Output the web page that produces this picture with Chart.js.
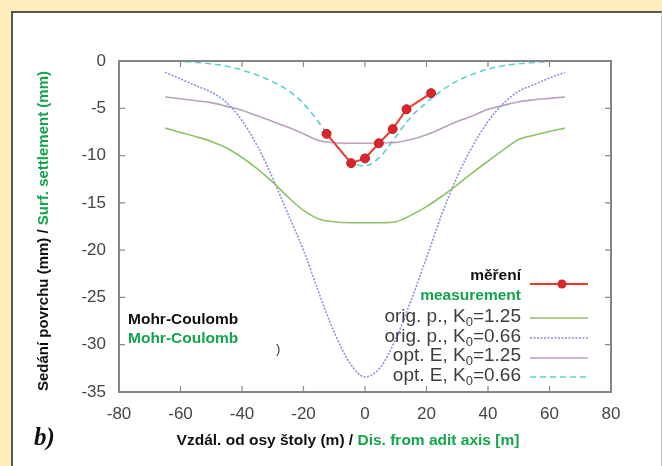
<!DOCTYPE html>
<html>
<head>
<meta charset="utf-8">
<script src="https://cdn.jsdelivr.net/npm/chart.js@4.4.1/dist/chart.umd.min.js"></script>
<style>
  html, body { margin: 0; padding: 0; width: 662px; height: 466px; overflow: hidden; background: #fdeebb; }
  #panel { position: absolute; left: 11px; top: 11px; width: 648px; height: 460px; background: #ffffff;
           border-left: 2px solid #5a5550; border-top: 2px solid #5a5550; border-right: 1px solid #c8c8c8; }
  #c { position: absolute; left: 0; top: 0; }
</style>
</head>
<body>
<div id="panel"></div>
<canvas id="c" width="662" height="466"></canvas>
<script>
// Distance from the adit axis (m) for the computed settlement profiles
const distance = [-65, -60, -55, -50, -45, -40, -35, -30, -25, -20, -15, -10, -5, 0,
                  5, 10, 15, 20, 25, 30, 35, 40, 45, 50, 55, 60, 65];

// Surface settlement (mm), Mohr-Coulomb model
const origK125 = [-7.1, -7.55, -8.0, -8.5, -9.2, -10.2, -11.4, -12.8, -14.4, -15.8, -16.7, -17.0, -17.1, -17.1,
                  -17.1, -17.0, -16.3, -15.4, -14.3, -13.1, -11.8, -10.6, -9.4, -8.3, -7.85, -7.45, -7.1];
const origK066 = [-1.2, -1.9, -2.6, -3.3, -4.4, -6.3, -9.0, -12.4, -16.2, -20.0, -24.5, -28.7, -31.9, -33.4,
                  -32.4, -29.4, -25.3, -20.8, -16.2, -12.2, -9.0, -6.4, -4.5, -3.2, -2.5, -1.8, -1.2];
const optK125  = [-3.8, -4.0, -4.2, -4.4, -4.8, -5.2, -5.8, -6.4, -7.0, -7.7, -8.4, -8.65, -8.7, -8.7,
                  -8.65, -8.6, -8.3, -7.8, -7.1, -6.4, -5.8, -5.1, -4.7, -4.3, -4.1, -3.95, -3.8];
const optK066  = [0, -0.05, -0.15, -0.3, -0.55, -0.95, -1.5, -2.2, -3.1, -4.5, -6.5, -8.7, -10.5, -11.1,
                  -10.1, -8.0, -5.9, -4.4, -3.1, -2.1, -1.4, -0.85, -0.5, -0.3, -0.15, -0.05, 0];

// Measured surface settlement
const measX = [-12.5, -4.5, 0, 4.5, 9, 13.5, 21.5];
const measY = [-7.7, -10.8, -10.3, -8.7, -7.2, -5.1, -3.4];

// Axis ranges and tick steps
const xRange = [-80, 80], xStep = 20;
const yRange = [-35, 0], yStep = 5;

// Legend entries: [label prefix, subscript, suffix]
const legendEntries = [
  ['orig. p., K', '0', '=1.25'],
  ['orig. p., K', '0', '=0.66'],
  ['opt. E, K', '0', '=1.25'],
  ['opt. E, K', '0', '=0.66']
];

const GREEN_TEXT = '#12a54c';
const pts = (xs, ys) => xs.map((x, i) => ({ x: x, y: ys[i] }));

const seriesStyles = [
  { color: '#8fc266', dash: [] },
  { color: '#8a8fe0', dash: [2, 1.5] },
  { color: '#b9a2bc', dash: [] },
  { color: '#5ecfd3', dash: [6, 4] }
];

const datasets = [
  {
    label: 'měření',
    data: pts(measX, measY),
    borderColor: '#ee3a2c',
    borderWidth: 2,
    pointRadius: 4.5,
    pointBackgroundColor: '#d8262a',
    pointBorderColor: '#c01f22',
    pointBorderWidth: 1,
    tension: 0
  }
];
[origK125, origK066, optK125, optK066].forEach((vals, i) => {
  datasets.push({
    label: legendEntries[i].join(''),
    data: pts(distance, vals),
    borderColor: seriesStyles[i].color,
    borderDash: seriesStyles[i].dash,
    borderWidth: 1.6,
    pointRadius: 0,
    cubicInterpolationMode: 'monotone'
  });
});

// Frame, mirrored inward ticks, titles, legend and annotations
const decorations = {
  id: 'decorations',
  afterDraw(chart) {
    const ctx = chart.ctx;
    const a = chart.chartArea;
    const xs = chart.scales.x, ys = chart.scales.y;
    ctx.save();

    // plot box
    ctx.strokeStyle = '#858585';
    ctx.lineWidth = 2;
    ctx.strokeRect(a.left, a.top, a.right - a.left, a.bottom - a.top);

    // inward ticks on all four sides
    ctx.lineWidth = 1.2;
    ctx.strokeStyle = '#8a8a8a';
    const tl = 6;
    for (let v = xRange[0] + xStep; v < xRange[1]; v += xStep) {
      const px = xs.getPixelForValue(v);
      ctx.beginPath();
      ctx.moveTo(px, a.bottom); ctx.lineTo(px, a.bottom - tl);
      ctx.moveTo(px, a.top); ctx.lineTo(px, a.top + tl);
      ctx.stroke();
    }
    for (let v = yRange[0] + yStep; v < yRange[1]; v += yStep) {
      const py = ys.getPixelForValue(v);
      ctx.beginPath();
      ctx.moveTo(a.left, py); ctx.lineTo(a.left + tl, py);
      ctx.moveTo(a.right, py); ctx.lineTo(a.right - tl, py);
      ctx.stroke();
    }

    // two-colour titles
    const twoTone = (first, second, cx, cy, font) => {
      ctx.font = font;
      ctx.textBaseline = 'middle';
      ctx.textAlign = 'left';
      const w1 = ctx.measureText(first).width;
      const w2 = ctx.measureText(second).width;
      const x0 = cx - (w1 + w2) / 2;
      ctx.fillStyle = '#111111';
      ctx.fillText(first, x0, cy);
      ctx.fillStyle = GREEN_TEXT;
      ctx.fillText(second, x0 + w1, cy);
    };
    twoTone('Vzdál. od osy štoly (m) / ', 'Dis. from adit axis [m]', 348, 441, 'bold 15.5px "Liberation Sans", Arial, sans-serif');
    ctx.save();
    ctx.translate(44, 231);
    ctx.rotate(-Math.PI / 2);
    twoTone('Sedání povrchu (mm) / ', 'Surf. settlement (mm)', 0, 0, 'bold 15px "Liberation Sans", Arial, sans-serif');
    ctx.restore();

    // panel letter
    ctx.fillStyle = '#111111';
    ctx.font = 'italic bold 25px "Liberation Serif", "DejaVu Serif", serif';
    ctx.textBaseline = 'alphabetic';
    ctx.textAlign = 'left';
    ctx.fillText('b)', 34, 445);

    // material model note
    ctx.font = 'bold 15.5px "Liberation Sans", Arial, sans-serif';
    ctx.textBaseline = 'middle';
    ctx.fillStyle = '#111111';
    ctx.fillText('Mohr-Coulomb', 128, 320);
    ctx.fillStyle = GREEN_TEXT;
    ctx.fillText('Mohr-Coulomb', 128, 339);
    ctx.fillStyle = '#333333';
    ctx.font = '13px "Liberation Sans", Arial, sans-serif';
    ctx.fillText(')', 276, 349);

    // legend
    const rx = 521, sx0 = 530, sx1 = 588;
    ctx.textAlign = 'right';
    ctx.font = 'bold 15.5px "Liberation Sans", Arial, sans-serif';
    ctx.fillStyle = '#111111';
    ctx.fillText('měření', rx, 276);
    ctx.fillStyle = GREEN_TEXT;
    ctx.fillText('measurement', rx, 296);

    const m = datasets[0];
    ctx.strokeStyle = m.borderColor;
    ctx.lineWidth = 2;
    ctx.setLineDash([]);
    ctx.beginPath(); ctx.moveTo(sx0, 284); ctx.lineTo(sx1, 284); ctx.stroke();
    ctx.fillStyle = m.pointBackgroundColor;
    ctx.beginPath(); ctx.arc(562, 284, 4.5, 0, Math.PI * 2); ctx.fill();

    const rows = [317, 337, 356, 376];
    const lines = [318, 338, 358, 377];
    legendEntries.forEach((e, i) => {
      const big = '19px "Liberation Sans", Arial, sans-serif';
      const small = '13px "Liberation Sans", Arial, sans-serif';
      ctx.fillStyle = '#3e3e3e';
      ctx.textAlign = 'left';
      ctx.font = big;
      const w0 = ctx.measureText(e[0]).width;
      const w2 = ctx.measureText(e[2]).width;
      ctx.font = small;
      const w1 = ctx.measureText(e[1]).width;
      let x = rx - (w0 + w1 + w2);
      ctx.font = big;
      ctx.fillText(e[0], x, rows[i]);
      x += w0;
      ctx.font = small;
      ctx.fillText(e[1], x, rows[i] + 5);
      x += w1;
      ctx.font = big;
      ctx.fillText(e[2], x, rows[i]);

      const ds = datasets[i + 1];
      ctx.strokeStyle = ds.borderColor;
      ctx.lineWidth = 1.6;
      ctx.setLineDash(ds.borderDash);
      ctx.beginPath(); ctx.moveTo(sx0, lines[i]); ctx.lineTo(sx1, lines[i]); ctx.stroke();
    });
    ctx.setLineDash([]);
    ctx.restore();
  }
};

const tickFont = { family: '"Liberation Sans", Arial, sans-serif', size: 17 };

new Chart(document.getElementById('c'), {
  type: 'line',
  data: { datasets: datasets },
  options: {
    responsive: false,
    animation: false,
    devicePixelRatio: 1,
    layout: { padding: { left: 0, top: 61, right: 51, bottom: 0 } },
    plugins: { legend: { display: false }, tooltip: { enabled: false } },
    scales: {
      x: {
        type: 'linear', min: xRange[0], max: xRange[1],
        ticks: { stepSize: xStep, font: tickFont, color: '#454545', padding: 12, maxRotation: 0 },
        grid: { display: false, drawTicks: false },
        border: { display: false },
        afterFit(s) { s.height = 74; }
      },
      y: {
        type: 'linear', min: yRange[0], max: yRange[1],
        ticks: { stepSize: yStep, font: tickFont, color: '#454545', padding: 13 },
        grid: { display: false, drawTicks: false },
        border: { display: false },
        afterFit(s) { s.width = 119; }
      }
    }
  },
  plugins: [decorations]
});
</script>
</body>
</html>
